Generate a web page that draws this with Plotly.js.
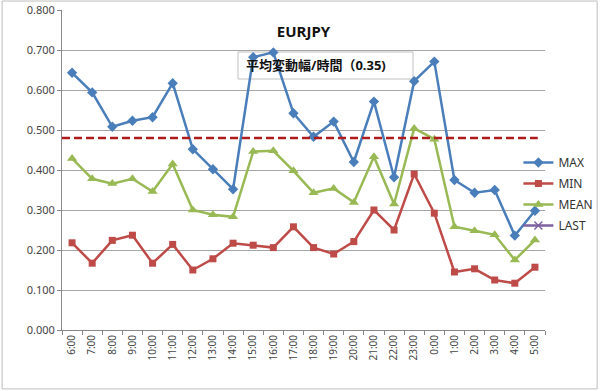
<!DOCTYPE html>
<html>
<head>
<meta charset="utf-8">
<script src="https://cdn.plot.ly/plotly-3.0.1.min.js"></script>
<style>html,body{margin:0;padding:0;background:#fff;}#chart{width:600px;height:391px;}</style>
</head>
<body>
<div id="chart"></div>
<script>
const hours = ["6:00","7:00","8:00","9:00","10:00","11:00","12:00","13:00","14:00","15:00","16:00","17:00","18:00","19:00","20:00","21:00","22:00","23:00","0:00","1:00","2:00","3:00","4:00","5:00"];
const maxVals  = [0.643,0.594,0.508,0.523,0.532,0.617,0.452,0.402,0.352,0.682,0.694,0.542,0.483,0.521,0.420,0.571,0.382,0.622,0.671,0.375,0.343,0.350,0.236,0.298];
const minVals  = [0.218,0.167,0.224,0.237,0.167,0.214,0.150,0.178,0.217,0.212,0.206,0.258,0.206,0.190,0.221,0.300,0.250,0.390,0.292,0.145,0.153,0.125,0.117,0.157];
const meanVals = [0.429,0.378,0.366,0.378,0.346,0.415,0.300,0.288,0.283,0.446,0.448,0.398,0.343,0.354,0.319,0.433,0.315,0.504,0.477,0.258,0.248,0.238,0.175,0.225];
const lastVals = hours.map(() => null);
const avgLine = 0.48;
const titleText = "EURJPY";
const noteText = "平均変動幅/時間（0.35)";

const font = "Noto Sans, Noto Sans CJK JP, sans-serif";
function tr(name, y, color, symbol, size) {
  return {x: hours, y: y, name: name, legendgroup: name, type: "scatter", mode: "lines+markers",
    line: {color: color, width: 2.5},
    marker: {symbol: symbol, size: size, color: color, line: {width: 0}}};
}
const data = [
  tr("MAX", maxVals, "#4a7ebb", "diamond", 8),
  tr("MIN", minVals, "#be4b48", "square", 7),
  tr("MEAN", meanVals, "#98b954", "triangle-up", 9),
  tr("LAST", lastVals, "#7d60a0", "x-thin-open", 8)
];
data[3].marker.line = {width: 1.5, color: "#7d60a0"};

// annotation box geometry (paper coords)
const bx0 = (238 - 62) / 483, bx1 = (413 - 62) / 483;
const by1 = (330 - 52) / 320, by0 = (330 - 79) / 320;

const layout = {
  width: 600, height: 391,
  margin: {l: 62, r: 55, t: 10, b: 61, autoexpand: false},
  paper_bgcolor: "#fff", plot_bgcolor: "rgba(0,0,0,0)",
  font: {family: font, color: "#444", size: 11},
  title: {text: "<b>" + titleText + "</b>", x: 0.5, xref: "paper", y: 0.918, yref: "container", yanchor: "middle",
    font: {family: font, size: 15, color: "#111"}},
  showlegend: true,
  legend: {xref: "container", yref: "container", x: 0.864, xanchor: "left", y: 0.504, yanchor: "middle",
    bgcolor: "rgba(0,0,0,0)", traceorder: "grouped", tracegroupgap: 2,
    font: {size: 12, color: "#333"}, itemwidth: 30},
  xaxis: {type: "category", tickangle: -90, tickson: "boundaries", ticks: "outside", ticklen: 4,
    tickcolor: "#888", showline: true, linecolor: "#888", linewidth: 1, showgrid: false,
    tickfont: {size: 10, color: "#444"}, range: [-0.5, 23.5], fixedrange: true},
  yaxis: {range: [0, 0.8], dtick: 0.1, tickformat: ".3f", ticks: "outside", ticklen: 4,
    tickcolor: "#888", showline: true, linecolor: "#888", linewidth: 1,
    showgrid: true, gridcolor: "#a6a6a6", gridwidth: 1, zeroline: false,
    tickfont: {size: 11, color: "#444"}},
  shapes: [
    {type: "rect", xref: "paper", yref: "paper", x0: -0.124, x1: 1.108, y0: -0.184, y1: 1.028,
      line: {color: "#bdbdbd", width: 1}, fillcolor: "#fff", layer: "below"},
    {type: "rect", xref: "paper", yref: "paper", x0: bx0, x1: bx1, y0: by0, y1: by1,
      line: {color: "#c0c0c0", width: 1}, fillcolor: "#fff", layer: "below"},
    {type: "line", xref: "paper", x0: 0, x1: 0.985, yref: "y", y0: avgLine, y1: avgLine,
      line: {color: "#b01c1c", width: 2.5, dash: "8px,4px"}}
  ],
  annotations: [
    {text: "<b>" + noteText + "</b>", xref: "paper", yref: "paper", x: bx0 + 6 / 483, y: (by0 + by1) / 2,
      xanchor: "left", yanchor: "middle", showarrow: false,
      font: {family: font, size: 13, color: "#111"}}
  ]
};
Plotly.newPlot("chart", data, layout, {displayModeBar: false, staticPlot: true});
</script>
</body>
</html>
